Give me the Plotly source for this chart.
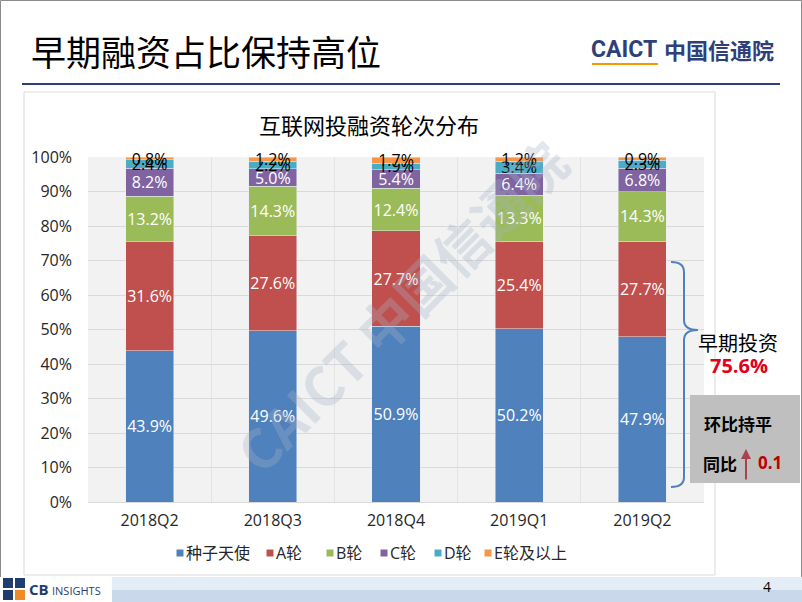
import plotly.graph_objects as go

# data
quarters = ["2018Q2", "2018Q3", "2018Q4", "2019Q1", "2019Q2"]
seed = [43.9, 49.6, 50.9, 50.2, 47.9]
round_a = [31.6, 27.6, 27.7, 25.4, 27.7]
round_b = [13.2, 14.3, 12.4, 13.3, 14.3]
round_c = [8.2, 5.0, 5.4, 6.4, 6.8]
round_d = [2.4, 2.2, 1.9, 3.4, 2.3]
round_e = [0.8, 1.2, 1.7, 1.2, 0.9]
series_names = ["种子天使", "A轮", "B轮", "C轮", "D轮", "E轮及以上"]
colors = ["#4F81BD", "#C0504D", "#9BBB59", "#8064A2", "#4BACC6", "#F79646"]
text_colors = ["white", "white", "white", "white", "black", "black"]

FONT = "Open Sans, Noto Sans CJK SC, sans-serif"
CJK = "Noto Sans CJK SC, sans-serif"

W, H = 802, 602
L, R, T, B = 88, 704, 157, 502


def px(x):
    return (x - L) / (R - L)


def py(y):
    return (B - y) / (B - T)


fig = go.Figure()
for name, vals, col, tcol in zip(series_names,
                                 [seed, round_a, round_b, round_c, round_d, round_e],
                                 colors, text_colors):
    fig.add_trace(go.Bar(
        x=quarters, y=vals, name=name, marker_color=col, width=0.39,
        text=vals, texttemplate="%{text:.1f}%", textposition="inside", textangle=0,
        insidetextanchor="middle", constraintext="none", cliponaxis=False,
        textfont=dict(color=tcol, size=16, family=FONT),
        hoverinfo="skip", showlegend=False,
    ))

shapes = [
    # slide border
    dict(type="rect", xref="paper", yref="paper", x0=px(0.5), x1=px(801.5), y0=py(0.5), y1=py(601.5),
         line=dict(color="#8c8c8c", width=1), layer="below"),
    # header rule
    dict(type="line", xref="paper", yref="paper", x0=px(22), x1=px(780), y0=py(84), y1=py(84),
         line=dict(color="#2E3F7A", width=2)),
    # chart frame
    dict(type="rect", xref="paper", yref="paper", x0=px(24), x1=px(715), y0=py(92), y1=py(575),
         line=dict(color="#d9d9d9", width=1), layer="below"),
    # CAICT underline
    dict(type="line", xref="paper", yref="paper", x0=px(592), x1=px(658), y0=py(64), y1=py(64),
         line=dict(color="#F39800", width=2)),
    # footer band
    dict(type="rect", xref="paper", yref="paper", x0=px(0), x1=px(802), y0=py(577), y1=py(590),
         fillcolor="#e4ecf5", line_width=0),
    dict(type="rect", xref="paper", yref="paper", x0=px(0), x1=px(802), y0=py(590), y1=py(602),
         fillcolor="#c9d8ea", line_width=0),
    dict(type="rect", xref="paper", yref="paper", x0=px(0), x1=px(112), y0=py(577), y1=py(602),
         fillcolor="white", line_width=0),
    # CB logo blocks
    dict(type="rect", xref="paper", yref="paper", x0=px(3), x1=px(25), y0=py(578), y1=py(600),
         fillcolor="#1F3D6E", line_width=0),
    dict(type="rect", xref="paper", yref="paper", x0=px(15), x1=px(25), y0=py(590), y1=py(600),
         fillcolor="#F08A24", line_width=0),
    dict(type="line", xref="paper", yref="paper", x0=px(3), x1=px(25), y0=py(589), y1=py(589),
         line=dict(color="white", width=2)),
    dict(type="line", xref="paper", yref="paper", x0=px(14), x1=px(14), y0=py(578), y1=py(600),
         line=dict(color="white", width=2)),
    # brace
    dict(type="path", xref="paper", yref="paper",
         path=(f"M {px(671)},{py(262)} Q {px(684)},{py(262)} {px(684)},{py(272)} "
               f"L {px(684)},{py(320)} Q {px(684)},{py(330)} {px(698)},{py(330)} "
               f"Q {px(684)},{py(330)} {px(684)},{py(340)} L {px(684)},{py(477)} "
               f"Q {px(684)},{py(487)} {px(671)},{py(487)}"),
         line=dict(color="#4F81BD", width=2)),
    # gray box
    dict(type="rect", xref="paper", yref="paper", x0=px(690), x1=px(800), y0=py(395), y1=py(483),
         fillcolor="#BFBFBF", line_width=0),
]


def ann(x, y, text, size, color="black", family=CJK, xanchor="center", **kw):
    return dict(xref="paper", yref="paper", x=px(x), y=py(y), text=text, showarrow=False,
                xanchor=xanchor, yanchor="middle",
                font=dict(size=size, color=color, family=family), **kw)


annotations = [
    ann(29, 50, "早期融资占比保持高位", 35, xanchor="left"),
    ann(589, 49, "<b>CAICT</b>", 23, color="#2E3F7A", family="Roboto, sans-serif", xanchor="left"),
    ann(662, 49, "<b>中国信通院</b>", 22, color="#2E3F7A", xanchor="left"),
    ann(369, 124, "互联网投融资轮次分布", 22),
    # watermark
    ann(400, 305, "<b>CAICT 中国信通院</b>", 54, color="rgba(165,178,200,0.32)", textangle=-45),
    ann(738, 342, "早期投资", 20),
    ann(739, 365, "<b>75.6%</b>", 20, color="#E3001B", family=FONT),
    ann(738, 423, "<b>环比持平</b>", 17),
    ann(720, 463, "<b>同比</b>", 17),
    ann(770, 462, "<b>0.1</b>", 17, color="#C00000", family=FONT),
    dict(xref="paper", yref="paper", x=px(746), y=py(449), ax=0, ay=32, axref="pixel", ayref="pixel",
         text="", showarrow=True, arrowhead=2, arrowsize=1, arrowwidth=2, arrowcolor="#A8424E"),
    ann(27, 589, "<b>CB</b>", 15, color="#1F3D6E", family=FONT, xanchor="left"),
    ann(50, 590, "INSIGHTS", 11, color="#1F3D6E", family=FONT, xanchor="left"),
    ann(767, 586, "4", 14, family=FONT),
]

# legend row laid out like the reference (small square, tight label)
legend_icon_x = [180, 270, 330, 384, 438, 488]
for name, col, ix in zip(series_names, colors, legend_icon_x):
    shapes.append(dict(type="rect", xref="paper", yref="paper",
                       x0=px(ix - 3.5), x1=px(ix + 3.5), y0=py(556.5), y1=py(549.5),
                       fillcolor=col, line_width=0))
    annotations.append(ann(ix + 4, 553, name, 16, color="#262626", family=FONT, xanchor="left"))

fig.update_layout(
    width=W, height=H,
    margin=dict(l=L, r=W - R, t=T, b=H - B, pad=0),
    barmode="stack", barnorm="percent",
    paper_bgcolor="white", plot_bgcolor="#f2f2f2",
    font=dict(family=FONT, size=16, color="#262626"),
    showlegend=False,
    xaxis=dict(showgrid=True, tickson="boundaries", gridcolor="#e3e3e3", showline=True,
               linecolor="#d9d9d9", ticks="", ticklabelstandoff=4, tickfont=dict(size=16),
               fixedrange=True),
    yaxis=dict(range=[0, 100.05], dtick=10, tick0=0, ticksuffix="%",
               gridcolor="#d9d9d9", zeroline=False,
               ticks="", ticklabelstandoff=15, tickfont=dict(size=16), fixedrange=True),
    shapes=shapes,
    annotations=annotations,
)

fig.write_html("out.html", config={"displayModeBar": False},
               post_script="document.body.style.margin='0px';document.body.style.overflow='hidden';")
